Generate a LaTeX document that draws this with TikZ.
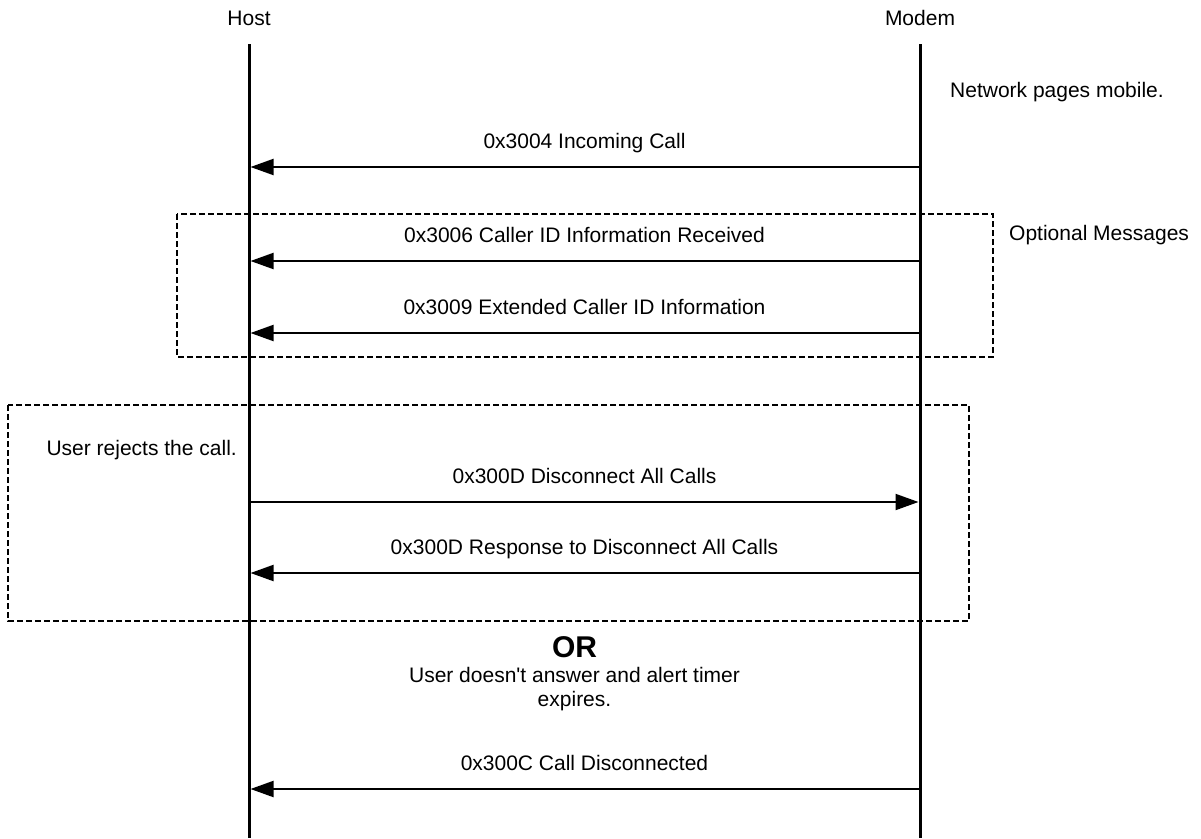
\documentclass[tikz,border=0pt]{standalone}
\usepackage{fontspec}
\setmainfont{Liberation Sans}
\usetikzlibrary{arrows.meta}

\begin{document}
\begin{tikzpicture}[x=1pt,y=-1pt,
    every node/.style={font=\fontsize{21}{25}\selectfont,inner sep=0pt},
    lifeline/.style={line width=3pt},
    msg/.style={line width=2pt,shorten >=1.5pt,-{Triangle[length=23pt,width=16pt]}},
    optbox/.style={line width=1.5pt,dash pattern=on 6pt off 3pt},
    msglabel/.style={midway,anchor=base,yshift=19pt}]
  \useasboundingbox (0,0) rectangle (1201,838);
  % the two parties
  \node[anchor=base] (host) at (249,25) {Host};
  \node[anchor=base] (modem) at (920,25) {Modem};
  \coordinate (host top) at (249,44);
  \coordinate (host end) at (249,838);
  \coordinate (modem top) at (920,44);
  \coordinate (modem end) at (920,838);
  \draw[lifeline] (host top) -- (host end);
  \draw[lifeline] (modem top) -- (modem end);
  % one pair of end points per message
  \foreach \row/\ypos in {1/167,2/261,3/333,4/502,5/573,6/789} {
    \coordinate (h\row) at (249,\ypos);
    \coordinate (m\row) at (920,\ypos);
  }
  \node[anchor=base west] (network) at (950,97) {Network pages mobile.};
  \draw[msg] (m1) -- (h1) node[msglabel] {0x3004 Incoming Call};
  % optional caller id messages
  \draw[optbox] (177,214) rectangle (993,357);
  \node[anchor=base west] (optional) at (1009,240) {Optional Messages};
  \draw[msg] (m2) -- (h2) node[msglabel] {0x3006 Caller ID Information Received};
  \draw[msg] (m3) -- (h3) node[msglabel] {0x3009 Extended Caller ID Information};
  % call rejected by the user
  \draw[optbox] (8,405) rectangle (969,621);
  \node[anchor=base east] (reject) at (237,455) {User rejects the call.};
  \draw[msg] (h4) -- (m4) node[msglabel] {0x300D Disconnect All Calls};
  \draw[msg] (m5) -- (h5) node[msglabel] {0x300D Response to Disconnect All Calls};
  % or the alert timer runs out
  \node[anchor=base,font=\bfseries\fontsize{30}{36}\selectfont] (or) at (574.5,657) {OR};
  \node[anchor=base,align=center,font=\fontsize{21}{24}\selectfont] (timeout) at (574.5,706)
    {User doesn\textquotesingle t answer and alert timer\\expires.};
  \draw[msg] (m6) -- (h6) node[msglabel] {0x300C Call Disconnected};
\end{tikzpicture}
\end{document}
